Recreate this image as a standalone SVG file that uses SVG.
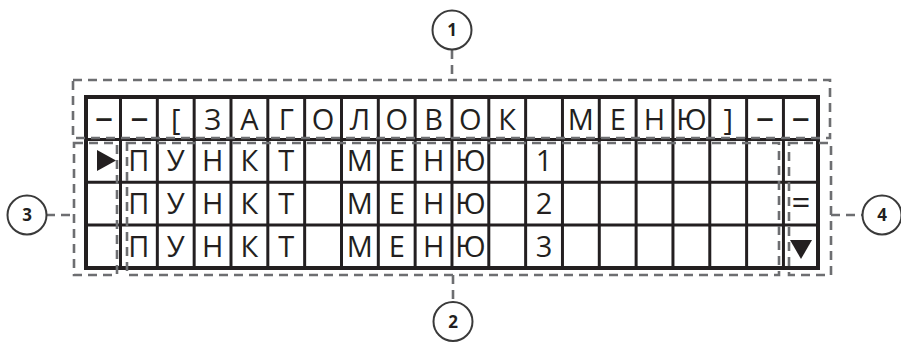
<svg xmlns="http://www.w3.org/2000/svg" width="901" height="342" viewBox="0 0 901 342">
<style>
  .grid { fill: none; stroke: #231f20; stroke-width: 3; }
  .outer { fill: none; stroke: #231f20; stroke-width: 4; }
  .ch { font-family: "Open Sans", "Liberation Sans", sans-serif; font-size: 29px; fill: #231f20; text-anchor: middle; }
  .dash { font-size: 36px; }
  .sym { fill: #231f20; }
  .region { fill: none; stroke: #6d6e71; stroke-width: 2.6; stroke-dasharray: 9 6; }
  .conn { fill: none; stroke: #6d6e71; stroke-width: 2.6; stroke-dasharray: 9 6; }
  .circ { fill: #ffffff; stroke: #3a3a3a; stroke-width: 2; }
  .num { font-family: "Open Sans", "Liberation Sans", sans-serif; font-size: 17px; font-weight: bold; fill: #231f20; text-anchor: middle; }
</style>
<rect width="901" height="342" fill="#ffffff"/>

<g id="lcd">
  <g class="grid">
    <line x1="120.5" y1="97" x2="120.5" y2="268"/>
    <line x1="157.33" y1="97" x2="157.33" y2="268"/>
    <line x1="194.16" y1="97" x2="194.16" y2="268"/>
    <line x1="230.99" y1="97" x2="230.99" y2="268"/>
    <line x1="267.82" y1="97" x2="267.82" y2="268"/>
    <line x1="304.65" y1="97" x2="304.65" y2="268"/>
    <line x1="341.48" y1="97" x2="341.48" y2="268"/>
    <line x1="378.31" y1="97" x2="378.31" y2="268"/>
    <line x1="415.14" y1="97" x2="415.14" y2="268"/>
    <line x1="451.97" y1="97" x2="451.97" y2="268"/>
    <line x1="488.8" y1="97" x2="488.8" y2="268"/>
    <line x1="525.63" y1="97" x2="525.63" y2="268"/>
    <line x1="562.46" y1="97" x2="562.46" y2="268"/>
    <line x1="599.29" y1="97" x2="599.29" y2="268"/>
    <line x1="636.12" y1="97" x2="636.12" y2="268"/>
    <line x1="672.95" y1="97" x2="672.95" y2="268"/>
    <line x1="709.78" y1="97" x2="709.78" y2="268"/>
    <line x1="746.61" y1="97" x2="746.61" y2="268"/>
    <line x1="783.44" y1="97" x2="783.44" y2="268"/>
    <line x1="86" y1="139.5" x2="818" y2="139.5"/>
    <line x1="86" y1="182.2" x2="818" y2="182.2"/>
    <line x1="86" y1="225" x2="818" y2="225"/>
  </g>
  <rect class="outer" x="86" y="97" width="732" height="171"/>

  <g id="row-1">
    <text class="ch dash" x="104" y="130">–</text>
    <text class="ch dash" x="139.5" y="130">–</text>
    <text class="ch" x="175.7" y="130">[</text>
    <text class="ch" x="212.6" y="130">З</text>
    <text class="ch" x="249.4" y="130">А</text>
    <text class="ch" x="286.2" y="130">Г</text>
    <text class="ch" x="323.1" y="130">О</text>
    <text class="ch" x="359.9" y="130">Л</text>
    <text class="ch" x="396.7" y="130">О</text>
    <text class="ch" x="433.6" y="130">В</text>
    <text class="ch" x="470.4" y="130">О</text>
    <text class="ch" x="507.2" y="130">К</text>
    <text class="ch" x="580.9" y="130">М</text>
    <text class="ch" x="617.7" y="130">Е</text>
    <text class="ch" x="654.5" y="130">Н</text>
    <text class="ch" x="691.4" y="130">Ю</text>
    <text class="ch" x="728.2" y="130">]</text>
    <text class="ch dash" x="765.0" y="130">–</text>
    <text class="ch dash" x="800.7" y="130">–</text>
  </g>

  <g id="row-2">
    <polygon class="sym" points="97,150 97,171 116,160.5"/>
    <text class="ch" x="138.9" y="171">П</text>
    <text class="ch" x="175.7" y="171">У</text>
    <text class="ch" x="212.6" y="171">Н</text>
    <text class="ch" x="249.4" y="171">К</text>
    <text class="ch" x="286.2" y="171">Т</text>
    <text class="ch" x="359.9" y="171">М</text>
    <text class="ch" x="396.7" y="171">Е</text>
    <text class="ch" x="433.6" y="171">Н</text>
    <text class="ch" x="470.4" y="171">Ю</text>
    <text class="ch" x="544.0" y="171">1</text>
  </g>

  <g id="row-3">
    <text class="ch" x="138.9" y="214">П</text>
    <text class="ch" x="175.7" y="214">У</text>
    <text class="ch" x="212.6" y="214">Н</text>
    <text class="ch" x="249.4" y="214">К</text>
    <text class="ch" x="286.2" y="214">Т</text>
    <text class="ch" x="359.9" y="214">М</text>
    <text class="ch" x="396.7" y="214">Е</text>
    <text class="ch" x="433.6" y="214">Н</text>
    <text class="ch" x="470.4" y="214">Ю</text>
    <text class="ch" x="544.0" y="214">2</text>
    <text class="ch" x="801" y="214" style="font-size:33px">=</text>
  </g>

  <g id="row-4">
    <text class="ch" x="138.9" y="257">П</text>
    <text class="ch" x="175.7" y="257">У</text>
    <text class="ch" x="212.6" y="257">Н</text>
    <text class="ch" x="249.4" y="257">К</text>
    <text class="ch" x="286.2" y="257">Т</text>
    <text class="ch" x="359.9" y="257">М</text>
    <text class="ch" x="396.7" y="257">Е</text>
    <text class="ch" x="433.6" y="257">Н</text>
    <text class="ch" x="470.4" y="257">Ю</text>
    <text class="ch" x="544.0" y="257">3</text>
    <polygon class="sym" points="790,240 812,240 801,259"/>
  </g>
</g>

<g id="region-1"><rect class="region" x="73" y="80" width="757" height="58"/></g>
<g id="region-3"><rect class="region" x="74" y="143" width="43" height="132"/></g>
<g id="region-2"><rect class="region" x="127" y="143" width="652" height="132"/></g>
<g id="region-4"><rect class="region" x="789" y="143" width="42" height="132"/></g>

<g id="connectors">
  <line class="conn" x1="452" y1="50" x2="452" y2="80"/>
  <line class="conn" x1="453" y1="275" x2="453" y2="302"/>
  <line class="conn" x1="46" y1="215" x2="74" y2="215"/>
  <line class="conn" x1="831" y1="215" x2="863" y2="215"/>
</g>

<g id="callout-1"><circle class="circ" cx="452" cy="30" r="19.5"/><text class="num" x="452" y="36">1</text></g>
<g id="callout-2"><circle class="circ" cx="453" cy="321.5" r="19.5"/><text class="num" x="453" y="327.5">2</text></g>
<g id="callout-3"><circle class="circ" cx="27" cy="215" r="19.5"/><text class="num" x="27" y="221">3</text></g>
<g id="callout-4"><circle class="circ" cx="882" cy="215" r="19.5"/><text class="num" x="882" y="221">4</text></g>
</svg>
